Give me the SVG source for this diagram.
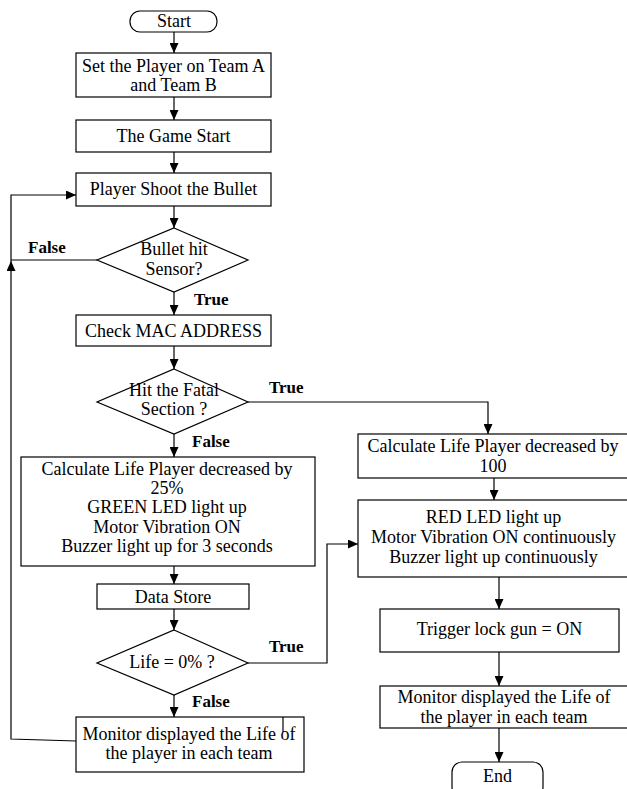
<svg xmlns="http://www.w3.org/2000/svg" width="627" height="789" viewBox="0 0 627 789">
<style>
.b{fill:#fff;stroke:#000;stroke-width:1.2}
.t{font-family:"Liberation Serif","Times New Roman",serif;font-size:18px;fill:#000;text-anchor:middle}
.l{font-family:"Liberation Serif","Times New Roman",serif;font-size:17px;font-weight:bold;fill:#000}
.c{fill:none;stroke:#000;stroke-width:1.2}
</style>
<defs>
<marker id="ah" markerUnits="userSpaceOnUse" markerWidth="10" markerHeight="9" refX="10" refY="4.5" orient="auto">
<path d="M0,0 L10,4.5 L0,9 z" fill="#000"/>
</marker>
</defs>
<rect width="627" height="789" fill="#fff"/>
<g id="connectors">
<path class="c" d="M174,32 V53" marker-end="url(#ah)"/>
<path class="c" d="M174,97 V120" marker-end="url(#ah)"/>
<path class="c" d="M174,152 V173" marker-end="url(#ah)"/>
<path class="c" d="M174,206 V228" marker-end="url(#ah)"/>
<path class="c" d="M97,260 H11"/>
<path class="c" d="M174,292 V315" marker-end="url(#ah)"/>
<path class="c" d="M174,346 V369" marker-end="url(#ah)"/>
<path class="c" d="M248,402 H488 V434" marker-end="url(#ah)"/>
<path class="c" d="M494,478 V500" marker-end="url(#ah)"/>
<path class="c" d="M499,577 V609" marker-end="url(#ah)"/>
<path class="c" d="M499,652 V686" marker-end="url(#ah)"/>
<path class="c" d="M499,728 V762" marker-end="url(#ah)"/>
<path class="c" d="M174,434 V457" marker-end="url(#ah)"/>
<path class="c" d="M174,566 V584" marker-end="url(#ah)"/>
<path class="c" d="M174,609 V630" marker-end="url(#ah)"/>
<path class="c" d="M248,663 H327 V544 H358" marker-end="url(#ah)"/>
<path class="c" d="M174,695 V717" marker-end="url(#ah)"/>
<path class="c" d="M76,741 L11,739 V261" marker-end="url(#ah)"/>
<path class="c" d="M11,261 V195 H76" marker-end="url(#ah)"/>
<text class="l" x="28" y="253">False</text>
<text class="l" x="194" y="305">True</text>
<text class="l" x="269" y="393">True</text>
<text class="l" x="192" y="447">False</text>
<text class="l" x="269" y="652">True</text>
<text class="l" x="192" y="707">False</text>
</g>
<g id="start"><rect class="b" x="130" y="11" width="87" height="21" rx="10"/><text class="t" x="174" y="27">Start</text></g>
<g id="setPlayers"><rect class="b" x="76" y="53" width="195" height="44"/><text class="t" x="173.5" y="72">Set the Player on Team A</text><text class="t" x="173.5" y="91">and Team B</text></g>
<g id="gameStart"><rect class="b" x="76" y="120" width="195" height="32"/><text class="t" x="173.5" y="142">The Game Start</text></g>
<g id="shoot"><rect class="b" x="76" y="173" width="195" height="33"/><text class="t" x="173.5" y="195">Player Shoot the Bullet</text></g>
<g id="hitSensor"><polygon class="b" points="174,228 248,260 174,292 97,260"/><text class="t" x="174" y="255">Bullet hit</text><text class="t" x="174" y="275">Sensor?</text></g>
<g id="checkMac"><rect class="b" x="76" y="315" width="195" height="31"/><text class="t" x="173.5" y="337">Check MAC ADDRESS</text></g>
<g id="fatal"><polygon class="b" points="174,369 248,402 174,434 97,402"/><text class="t" x="174" y="396">Hit the Fatal</text><text class="t" x="174" y="415">Section ?</text></g>
<g id="calc25"><rect class="b" x="21" y="457" width="294" height="109"/><text class="t" x="167" y="475">Calculate Life Player decreased by</text><text class="t" x="167" y="494">25%</text><text class="t" x="167" y="513">GREEN LED light up</text><text class="t" x="167" y="533">Motor Vibration ON</text><text class="t" x="167" y="552">Buzzer light up for 3 seconds</text></g>
<g id="dataStore"><rect class="b" x="97" y="584" width="152" height="25"/><text class="t" x="173" y="603">Data Store</text></g>
<g id="lifeZero"><polygon class="b" points="174,630 248,663 174,695 97,663"/><text class="t" x="172" y="668">Life = 0% ?</text></g>
<g id="monitorLeft"><rect class="b" x="76" y="717" width="228" height="55"/><path class="c" d="M283,717 V732"/><text class="t" x="189" y="740">Monitor displayed the Life of</text><text class="t" x="189" y="759">the player in each team</text></g>
<g id="calc100"><rect class="b" x="358" y="434" width="282" height="44"/><text class="t" x="493" y="452">Calculate Life Player decreased by</text><text class="t" x="493" y="472">100</text></g>
<g id="redLed"><rect class="b" x="358" y="500" width="282" height="77"/><text class="t" x="493.5" y="523">RED LED light up</text><text class="t" x="493.5" y="543">Motor Vibration ON continuously</text><text class="t" x="493.5" y="563">Buzzer light up continuously</text></g>
<g id="triggerLock"><rect class="b" x="380" y="609" width="239" height="43"/><text class="t" x="499.5" y="635">Trigger lock gun = ON</text></g>
<g id="monitorRight"><rect class="b" x="380" y="686" width="260" height="42"/><text class="t" x="504" y="703">Monitor displayed the Life of</text><text class="t" x="504" y="723">the player in each team</text></g>
<g id="end"><rect class="b" x="452" y="762" width="91" height="35" rx="10"/><text class="t" x="497.5" y="782">End</text></g>
</svg>
